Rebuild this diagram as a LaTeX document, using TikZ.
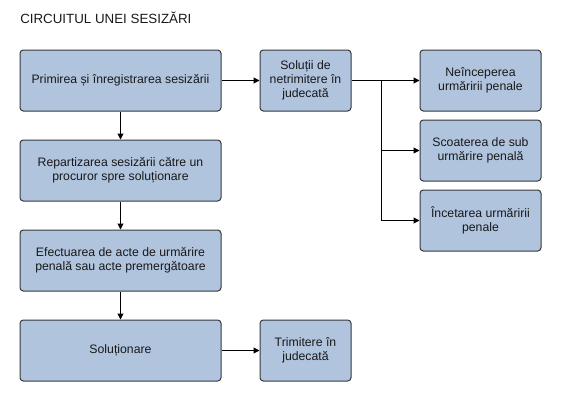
\documentclass[tikz,border=0pt]{standalone}
\usepackage{fontspec}
\setmainfont{Liberation Sans}
\usetikzlibrary{arrows.meta}
\definecolor{boxfill}{RGB}{176,196,222}
\definecolor{boxline}{RGB}{54,57,61}
\definecolor{txt}{RGB}{25,25,25}
\begin{document}
\begin{tikzpicture}[x=0.75pt,y=-0.75pt,
  box/.style={draw=boxline, fill=boxfill, rounded corners=2.5pt, line width=0.75pt,
    minimum width=#1*0.75pt, minimum height=61*0.75pt, align=center, inner sep=0pt,
    text=txt, font=\fontsize{9.2}{10.6}\selectfont},
  box/.default=201,
  arr/.style={line width=0.75pt, -{Triangle[length=4.5pt,width=4.5pt]}},
  ln/.style={line width=0.75pt}]
\useasboundingbox (0,0) rectangle (568,418);
\node[anchor=west, text=txt, font=\fontsize{10}{12}\selectfont, inner sep=0pt] (title) at (20,18) {CIRCUITUL UNEI SESIZĂRI};
\node[box] (a1) at (120.5,80.5) {Primirea și înregistrarea sesizării};
\node[box] (a2) at (120.5,170.5) {Repartizarea sesizării către un\\procuror spre soluționare};
\node[box] (a3) at (120.5,260.5) {Efectuarea de acte de urmărire\\penală sau acte premergătoare};
\node[box] (a4) at (120.5,350.5) {Soluționare};
\node[box=91] (b) at (305.5,80.5) {Soluții de\\netrimitere în\\judecată};
\node[box=91] (t) at (305.5,350.5) {Trimitere în\\judecată};
\node[box=121] (r1) at (480.5,80.5) {Neînceperea\\urmăririi penale};
\node[box=121] (r2) at (480.5,150.5) {Scoaterea de sub\\urmărire penală};
\node[box=121] (r3) at (480.5,220.5) {Încetarea urmăririi\\penale};
\coordinate (j) at (381,80.5);
\draw[arr] (a1) -- (b);
\draw[arr] (a1) -- (a2);
\draw[arr] (a2) -- (a3);
\draw[arr] (a3) -- (a4);
\draw[arr] (a4) -- (t);
\draw[arr] (b) -- (r1);
\draw[arr] (j) |- (r2.west);
\draw[arr] (j) |- (r3.west);
\end{tikzpicture}
\end{document}
